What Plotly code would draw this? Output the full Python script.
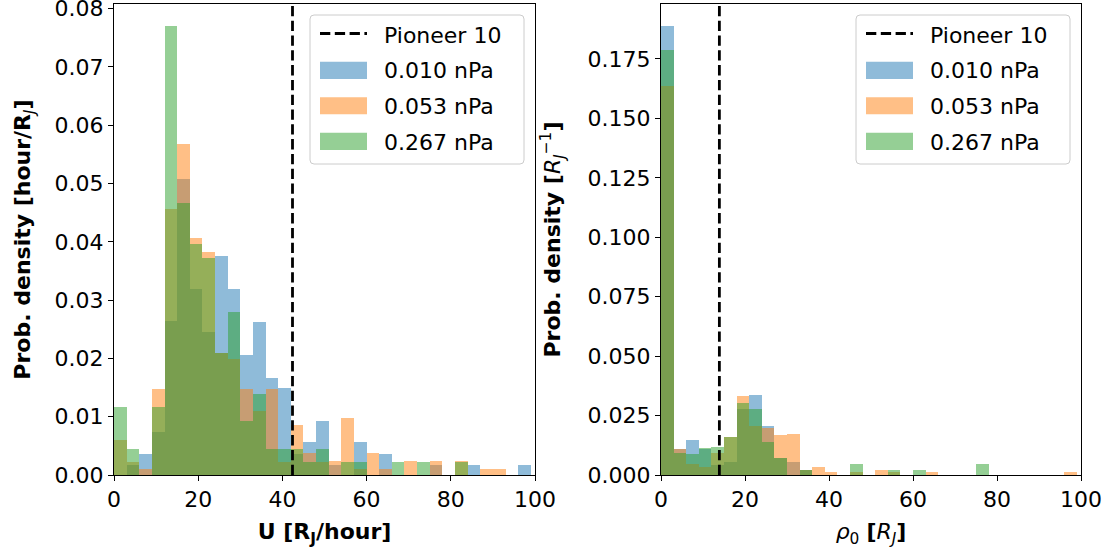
import plotly.graph_objects as go

# Histogram bins: 33 bins of width 3 starting at 0
bin_width = 3.0
bin_lefts = list(range(0, 99, 3))
bin_centers = [b + bin_width / 2 for b in bin_lefts]

labels = ["0.010 nPa", "0.053 nPa", "0.267 nPa"]

# Probability densities of the plasma speed U [R_J/hour]
u_010 = [0.0, 0.0017, 0.0036, 0.0074, 0.0264, 0.0507, 0.0319, 0.0245, 0.0376, 0.0319,
         0.0206, 0.0263, 0.0167, 0.0149, 0.0036, 0.0056, 0.0093, 0.0018, 0.0, 0.0056,
         0.0, 0.0036, 0.0, 0.0, 0.0, 0.0018, 0.0, 0.0, 0.0017, 0.0, 0.0, 0.0, 0.0017]
u_053 = [0.0060, 0.0023, 0.0011, 0.0147, 0.0456, 0.0567, 0.0407, 0.0382, 0.0210, 0.0199,
         0.0147, 0.0110, 0.0147, 0.0023, 0.0086, 0.0037, 0.0023, 0.0024, 0.0098, 0.0011,
         0.0037, 0.0011, 0.0, 0.0024, 0.0, 0.0024, 0.0, 0.0024, 0.0, 0.0011, 0.0011, 0.0, 0.0]
u_267 = [0.0116, 0.0045, 0.0, 0.0116, 0.0770, 0.0466, 0.0396, 0.0373, 0.0210, 0.0279,
         0.0093, 0.0139, 0.0045, 0.0045, 0.0045, 0.0023, 0.0045, 0.0, 0.0022, 0.0022,
         0.0, 0.0, 0.0023, 0.0, 0.0023, 0.0, 0.0, 0.0022, 0.0, 0.0, 0.0, 0.0, 0.0]

# Probability densities of rho_0 [R_J]
rho_010 = [0.1887, 0.0109, 0.0147, 0.0109, 0.0040, 0.0053, 0.0277, 0.0336, 0.0206, 0.0070,
           0.0056, 0.0021, 0.0, 0.0, 0.0, 0.0, 0.0, 0.0, 0.0, 0.0,
           0.0, 0.0, 0.0, 0.0, 0.0, 0.0, 0.0, 0.0, 0.0, 0.0, 0.0, 0.0, 0.0]
rho_053 = [0.1636, 0.0109, 0.0046, 0.0035, 0.0093, 0.0161, 0.0332, 0.0207, 0.0196, 0.0168,
           0.0171, 0.0021, 0.0035, 0.0011, 0.0, 0.0011, 0.0, 0.0021, 0.0011, 0.0,
           0.0, 0.0011, 0.0, 0.0, 0.0, 0.0, 0.0, 0.0, 0.0, 0.0, 0.0, 0.0, 0.0011]
rho_267 = [0.1786, 0.0091, 0.0088, 0.0115, 0.0117, 0.0161, 0.0304, 0.0277, 0.0140, 0.0070,
           0.0, 0.0021, 0.0, 0.0, 0.0, 0.0045, 0.0, 0.0, 0.0021, 0.0,
           0.0021, 0.0, 0.0, 0.0, 0.0, 0.0045, 0.0, 0.0, 0.0, 0.0, 0.0, 0.0, 0.0]

# Pioneer 10 reference values
pioneer_u = 42.4
pioneer_rho = 13.9

y_max_u = 0.0808
y_max_rho = 0.1981

colors = ["rgba(31,119,180,0.5)", "rgba(255,127,14,0.5)", "rgba(44,160,44,0.5)"]
FONT = "DejaVu Sans"
FS = 22

fig = go.Figure()

for series, xa, ya in [((u_010, u_053, u_267), "x", "y"),
                       ((rho_010, rho_053, rho_267), "x2", "y2")]:
    for vals, col, lab in zip(series, colors, labels):
        fig.add_trace(go.Bar(
            x=bin_centers, y=vals, width=bin_width, name=lab,
            marker=dict(color=col, line=dict(width=0)),
            xaxis=xa, yaxis=ya, showlegend=False, hoverinfo="x+y+name",
        ))

dash = "10.3px,4.5px"
fig.add_trace(go.Scatter(x=[pioneer_u, pioneer_u], y=[0, y_max_u], mode="lines",
                         line=dict(color="black", width=2.8, dash=dash),
                         name="Pioneer 10", xaxis="x", yaxis="y", showlegend=False))
fig.add_trace(go.Scatter(x=[pioneer_rho, pioneer_rho], y=[0, y_max_rho], mode="lines",
                         line=dict(color="black", width=2.8, dash=dash),
                         name="Pioneer 10", xaxis="x2", yaxis="y2", showlegend=False))

# Plot-area geometry in pixels
W, H = 1109, 556
L, R, T, B = 114, 1081, 4, 475
PW, PH = R - L, B - T


def px(xp):
    return (xp - L) / PW


def py(yp):
    return (B - yp) / PH


def rounded_box(x0, y0, x1, y1, r):
    pts = [
        f"M{px(x0 + r)},{py(y0)}",
        f"L{px(x1 - r)},{py(y0)}",
        f"Q{px(x1)},{py(y0)} {px(x1)},{py(y0 + r)}",
        f"L{px(x1)},{py(y1 - r)}",
        f"Q{px(x1)},{py(y1)} {px(x1 - r)},{py(y1)}",
        f"L{px(x0 + r)},{py(y1)}",
        f"Q{px(x0)},{py(y1)} {px(x0)},{py(y1 - r)}",
        f"L{px(x0)},{py(y0 + r)}",
        f"Q{px(x0)},{py(y0)} {px(x0 + r)},{py(y0)}",
        "Z",
    ]
    return " ".join(pts)


shapes = []
annotations = []
legend_texts = ["Pioneer 10"] + labels
for box_left in (310, 856):
    top, bottom = 15, 164
    shapes.append(dict(type="path", xref="paper", yref="paper",
                       path=rounded_box(box_left, top, box_left + 214, bottom, 4),
                       fillcolor="rgba(255,255,255,0.8)",
                       line=dict(color="#cccccc", width=1), layer="above"))
    hx0, hx1 = box_left + 10, box_left + 57
    shapes.append(dict(type="line", xref="paper", yref="paper",
                       x0=px(hx0), x1=px(hx1), y0=py(33.5), y1=py(33.5),
                       line=dict(color="black", width=2.8, dash=dash), layer="above"))
    for col, (s0, s1) in zip(colors, [(61.7, 79.0), (97.3, 114.3), (132.7, 150.0)]):
        shapes.append(dict(type="rect", xref="paper", yref="paper",
                           x0=px(hx0), x1=px(hx1), y0=py(s1), y1=py(s0),
                           fillcolor=col, line=dict(width=0), layer="above"))
    for txt, yc in zip(legend_texts, [35.5, 71, 107, 142]):
        annotations.append(dict(text=txt, xref="paper", yref="paper",
                                x=px(box_left + 72), y=py(yc), xanchor="left",
                                yanchor="middle", showarrow=False,
                                font=dict(family=FONT, size=FS, color="black")))

axis_common = dict(
    showline=True, linecolor="black", linewidth=1.1, mirror=True,
    ticks="outside", ticklen=5, tickwidth=1.1, tickcolor="black",
    showgrid=False, zeroline=False, ticklabeloverflow="allow",
    tickfont=dict(family=FONT, size=FS, color="black"),
)

title_font = dict(family=FONT, size=FS, color="black")

fig.update_layout(
    width=W, height=H,
    margin=dict(l=L, r=W - R, t=T, b=H - B, autoexpand=False),
    paper_bgcolor="white", plot_bgcolor="white",
    barmode="overlay", bargap=0,
    shapes=shapes, annotations=annotations,
    xaxis=dict(domain=[0, px(535)], range=[0, 100], tickvals=[0, 20, 40, 60, 80, 100],
               anchor="y",
               title=dict(text="<b>U [R<sub>J</sub>/hour]</b>", font=title_font, standoff=12),
               **axis_common),
    yaxis=dict(range=[0, y_max_u], tickvals=[0, 0.01, 0.02, 0.03, 0.04, 0.05, 0.06, 0.07, 0.08],
               tickformat=".2f", anchor="x",
               title=dict(text="<b>Prob. density [hour/R</b><sub><i>J</i></sub><b>]</b>",
                          font=title_font, standoff=17),
               **axis_common),
    xaxis2=dict(domain=[px(661), 1], range=[0, 100], tickvals=[0, 20, 40, 60, 80, 100],
                anchor="y2",
                title=dict(text="<i>ρ</i><sub>0</sub> <b>[</b><i>R<sub>J</sub></i><b>]</b>",
                           font=title_font, standoff=12),
                **axis_common),
    yaxis2=dict(range=[0, y_max_rho],
                tickvals=[0, 0.025, 0.05, 0.075, 0.1, 0.125, 0.15, 0.175],
                tickformat=".3f", anchor="x2",
                title=dict(text="<b>Prob. density [</b><i>R</i><sub><i>J</i></sub><sup>−1</sup><b>]</b>",
                           font=title_font, standoff=20),
                **axis_common),
)

fig.write_html("out.html")
